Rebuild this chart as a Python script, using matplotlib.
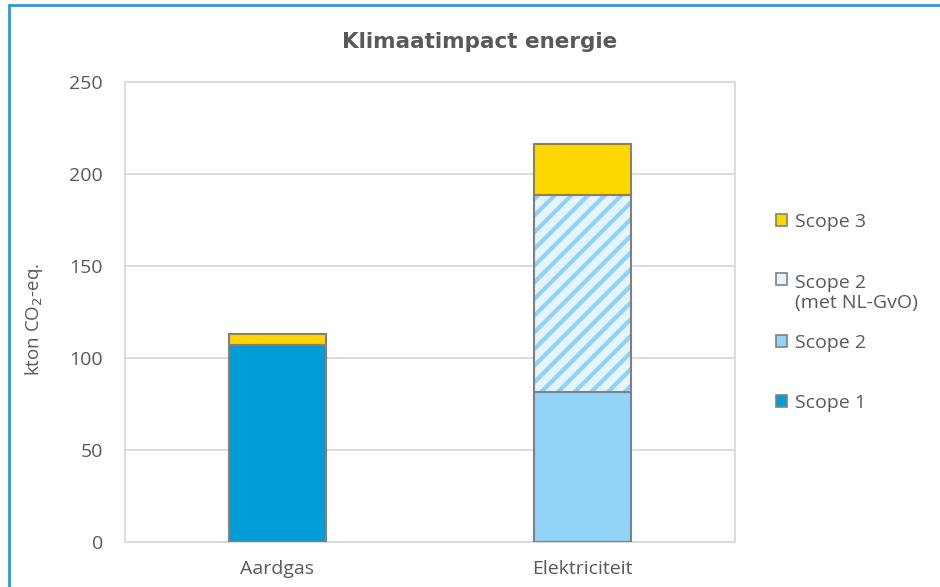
import matplotlib
matplotlib.use("Agg")
import matplotlib.pyplot as plt
from matplotlib.patches import Rectangle, Patch
from matplotlib.legend_handler import HandlerPatch

plt.rcParams['font.family'] = ['Open Sans', 'DejaVu Sans']
plt.rcParams['hatch.linewidth'] = 3.0

categories = ["Aardgas", "Elektriciteit"]
scope1 = [107, 0]
scope2 = [0, 81.5]
scope2_gvo = [0, 107]
scope3 = [6, 28]
yticks = [0, 50, 100, 150, 200, 250]
legend_labels = ["Scope 3", "Scope 2\n(met NL-GvO)", "Scope 2", "Scope 1"]

text_color = "#595959"
c_scope1 = "#009DD9"
c_scope2 = "#92D3F8"
c_gvo_bg = "#E6F4FF"
c_gvo_hatch = "#8FD1F8"
c_scope3 = "#FFD700"
edge = "#808080"
fs = 14

fig = plt.figure(figsize=(9.4, 5.87), dpi=100)
ax = fig.add_axes([125/940, 1 - 542/587, 610/940, 460/587])

x = list(range(len(categories)))
w = 0.315
ax.bar(x, scope1, w, color=c_scope1, edgecolor=edge, linewidth=1.5, zorder=3)
bottom = [a for a in scope1]
ax.bar(x, scope2, w, bottom=bottom, color=c_scope2, edgecolor=edge, linewidth=1.5, zorder=3)
bottom = [a + b for a, b in zip(bottom, scope2)]
ax.bar(x, scope2_gvo, w, bottom=bottom, color=c_gvo_bg, edgecolor=c_gvo_hatch,
       hatch='//', linewidth=0, zorder=3)
ax.bar(x, scope2_gvo, w, bottom=bottom, fill=False, edgecolor=edge, linewidth=1.5, zorder=4)
bottom = [a + b for a, b in zip(bottom, scope2_gvo)]
ax.bar(x, scope3, w, bottom=bottom, color=c_scope3, edgecolor=edge, linewidth=1.5, zorder=3)

ax.set_xlim(-0.5, 1.5)
ax.set_ylim(0, 250)
ax.set_yticks(yticks)
ax.set_xticks(x)
ax.set_xticklabels(categories)
ax.tick_params(axis='both', length=0, labelsize=fs, colors=text_color)
ax.tick_params(axis='y', pad=16)
ax.tick_params(axis='x', pad=13)
ax.grid(axis='y', color="#D9D9D9", linewidth=1.3, zorder=0)
for s in ax.spines.values():
    s.set_color("#D9D9D9")
    s.set_linewidth(1.3)

ax.set_ylabel("kton CO$_2$-eq.", fontsize=13.5, color=text_color)
ax.yaxis.set_label_coords(-0.131, 0.483)

fig.text(480/940, 1 - 42/587, "Klimaatimpact energie", ha='center', va='center',
         fontsize=15.5, fontweight='bold', color=text_color, family=['DejaVu Sans'])

# legend: one entry per legend, placed like the reference
facecols = [c_scope3, c_gvo_bg, c_scope2, c_scope1]
ycent = [222, 293, 343, 403]


def shifted_patch(legend, orig_handle, xdescent, ydescent, width, height, fontsize):
    return Rectangle((-xdescent, -ydescent + 0.6 * fontsize * 1.2), width, height)


for lab, fc, yc in zip(legend_labels, facecols, ycent):
    h = Patch(facecolor=fc, edgecolor=edge, linewidth=1.2)
    hmap = {}
    if "\n" in lab:
        hmap = {h: HandlerPatch(patch_func=shifted_patch)}
    fig.legend([h], [lab], loc='center left', bbox_to_anchor=(776/940, 1 - yc/587),
               frameon=False, fontsize=fs, labelcolor=text_color,
               handlelength=0.55, handleheight=0.55, handletextpad=0.45,
               borderpad=0, borderaxespad=0, handler_map=hmap)

# figure border
fig.patches.append(Rectangle((8.5/940, -0.05), 1.0, 1 - 5/587 + 0.05, transform=fig.transFigure,
                             fill=False, edgecolor="#1BA1E2", linewidth=2, clip_on=False))

fig.savefig("out.png", dpi=100)
